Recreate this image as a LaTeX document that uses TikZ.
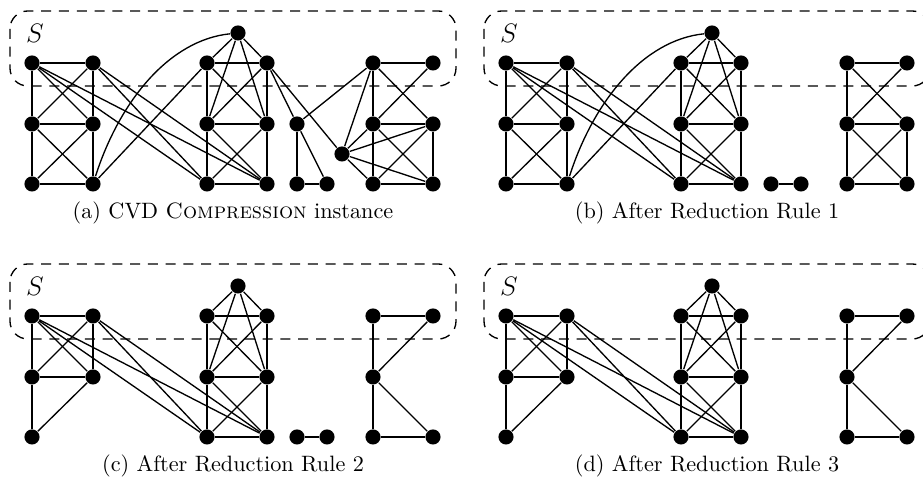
\documentclass[tikz,border=0pt]{standalone}
\usepackage{amsmath, amssymb}
\usepackage{tikz}

% vertices y aristas que aparecen en los cuatro dibujos
\newcommand{\nucleo}{%
  \foreach \n/\x/\y in {L1/32/63, L2/93/63, L3/32/124, L4/93/124, L5/32/184,
      T/238/33, M1/207/63, M2/267/63, M3/207/124, M4/267/124, M5/207/184, M6/267/184,
      R1/373/63, R2/433/63, R3/373/124, R5/373/184, R6/433/184}
    {\node[vert] (\n) at (\x,\y) {};}
  \foreach \u/\v in {L1/L2, L1/L3, L1/L4, L2/L3, L2/L4, L3/L4, L3/L5, L4/L5,
      L1/M5, L1/M6, L2/M5, L2/M6,
      T/M1, T/M2, T/M3, T/M4, M1/M2, M1/M3, M1/M4, M2/M3, M2/M4,
      M3/M4, M3/M5, M3/M6, M4/M5, M4/M6, M5/M6,
      R1/R2, R1/R3, R2/R3, R3/R5, R3/R6, R5/R6}
    {\draw (\u) -- (\v);}
  % conjunto S
  \draw[caja] (10,11) rectangle (456,86);
  \node (S) at (35,33) {\large $S$};
}

% L6 y R4 (solo en (a) y (b))
\newcommand{\extraLR}{%
  \node[vert] (L6) at (93,184) {};
  \node[vert] (R4) at (433,124) {};
  \foreach \u/\v in {L3/L6, L4/L6, L5/L6, L6/M1, R1/R4, R3/R4, R4/R5, R4/R6}
    {\draw (\u) -- (\v);}
  \draw (L6) .. controls (120,100) and (170,40) .. (T);
}

% par aislado
\newcommand{\dupla}{%
  \node[vert] (P2) at (297,184) {};
  \node[vert] (P3) at (327,184) {};
  \draw (P2) -- (P3);
}

\begin{document}
\begin{tikzpicture}[x=0.45pt, y=-0.45pt, line width=0.6pt,
    vert/.style={circle, fill=black, inner sep=0pt, minimum size=6.8pt},
    caja/.style={dash pattern=on 4.5pt off 3.5pt, rounded corners=8pt}]
  \useasboundingbox (0,0) rectangle (923,478);

  % (a) instancia original
  \begin{scope}[name prefix=a-]
    \nucleo
    \extraLR
    \dupla
    \node[vert] (P1) at (297,124) {};
    \node[vert] (Q) at (342,154) {};
    \foreach \u/\v in {P1/P2, P1/P3, M2/P1, P1/R1, M2/Q, Q/R1, Q/R3, Q/R4, Q/R5, Q/R6}
      {\draw (\u) -- (\v);}
    \node (cap) at (233,213) {(a) CVD \textsc{Compression} instance};
  \end{scope}

  % (b) regla 1
  \begin{scope}[shift={(474,0)}, name prefix=b-]
    \nucleo
    \extraLR
    \dupla
    \node (cap) at (233,213) {(b) After Reduction Rule 1};
  \end{scope}

  % (c) regla 2
  \begin{scope}[shift={(0,253)}, name prefix=c-]
    \nucleo
    \dupla
    \node (cap) at (233,213) {(c) After Reduction Rule 2};
  \end{scope}

  % (d) regla 3
  \begin{scope}[shift={(474,253)}, name prefix=d-]
    \nucleo
    \node (cap) at (233,213) {(d) After Reduction Rule 3};
  \end{scope}

\end{tikzpicture}
\end{document}
